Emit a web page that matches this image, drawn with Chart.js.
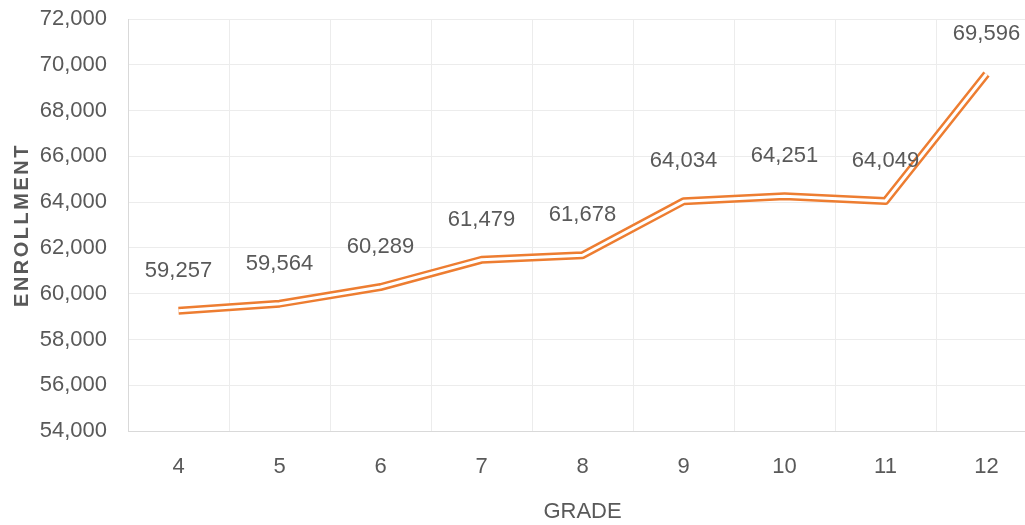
<!DOCTYPE html>
<html>
<head>
<meta charset="utf-8">
<script src="https://cdn.jsdelivr.net/npm/chart.js@4.4.1/dist/chart.umd.min.js"></script>
<style>
  html, body { margin: 0; padding: 0; background: #ffffff; overflow: hidden; }
  #wrap { position: relative; width: 1038px; height: 525px; }
</style>
</head>
<body>
<div id="wrap"><canvas id="c"></canvas></div>
<script>
const grades = ['4', '5', '6', '7', '8', '9', '10', '11', '12'];
const enrollment = [59257, 59564, 60289, 61479, 61678, 64034, 64251, 64049, 69596];
const yMin = 54000;
const yMax = 72000;
const yStep = 2000;
const xTitle = 'GRADE';
const yTitle = 'ENROLLMENT';

const TEXT = '#595959';
const ORANGE = '#ED7D31';
const FONT = "'Liberation Sans', Arial, sans-serif";
const FS = 22;

const labelPlugin = {
  id: 'valueLabels',
  afterDatasetsDraw(chart) {
    const ctx = chart.ctx;
    const meta = chart.getDatasetMeta(0);
    ctx.save();
    ctx.font = FS + 'px ' + FONT;
    ctx.fillStyle = TEXT;
    ctx.textAlign = 'center';
    ctx.textBaseline = 'middle';
    meta.data.forEach((pt, i) => {
      ctx.fillText(enrollment[i].toLocaleString('en-US'), pt.x, pt.y - 40);
    });
    ctx.restore();
  }
};

const yTitlePlugin = {
  id: 'yTitle',
  afterDraw(chart) {
    const ctx = chart.ctx;
    const area = chart.chartArea;
    ctx.save();
    ctx.translate(22, (area.top + area.bottom) / 2);
    ctx.rotate(-Math.PI / 2);
    ctx.font = "bold 20px 'Liberation Sans', Arial, sans-serif";
    ctx.letterSpacing = '2.5px';
    ctx.fillStyle = TEXT;
    ctx.textAlign = 'center';
    ctx.textBaseline = 'middle';
    ctx.fillText(yTitle, 0, 0);
    ctx.restore();
  }
};

new Chart(document.getElementById('c'), {
  type: 'line',
  data: {
    labels: grades,
    datasets: [
      {
        data: enrollment,
        borderColor: ORANGE,
        borderWidth: 8,
        pointRadius: 0,
        tension: 0,
        borderJoinStyle: 'round',
        fill: false,
        order: 2
      },
      {
        data: enrollment,
        borderColor: '#ffffff',
        borderWidth: 3,
        pointRadius: 0,
        tension: 0,
        borderJoinStyle: 'round',
        fill: false,
        order: 1
      }
    ]
  },
  options: {
    responsive: true,
    maintainAspectRatio: false,
    animation: false,
    devicePixelRatio: 1,
    layout: { padding: { top: 19, right: 1, left: 0, bottom: 0 } },
    plugins: {
      legend: { display: false },
      tooltip: { enabled: false }
    },
    scales: {
      x: {
        offset: true,
        grid: { offset: true, color: '#ececec', lineWidth: 1, drawTicks: false },
        border: { color: '#d9d9d9', width: 1 },
        ticks: { color: TEXT, font: { family: FONT, size: FS }, padding: 23 },
        title: {
          display: true, text: xTitle, color: TEXT,
          font: { family: FONT, size: FS, lineHeight: 1 },
          padding: { top: 0, bottom: 2 }
        },
        afterFit(scale) { scale.height = 94; }
      },
      y: {
        min: yMin,
        max: yMax,
        ticks: {
          stepSize: yStep, color: TEXT, font: { family: FONT, size: FS }, padding: 0,
          callback: (v) => Number(v).toLocaleString('en-US')
        },
        grid: { color: '#ececec', lineWidth: 1, drawTicks: true, tickLength: 21, tickColor: 'rgba(0,0,0,0)' },
        border: { color: '#d9d9d9', width: 1 },
        afterFit(scale) { scale.width = 128; }
      }
    }
  },
  plugins: [labelPlugin, yTitlePlugin]
});
</script>
</body>
</html>
